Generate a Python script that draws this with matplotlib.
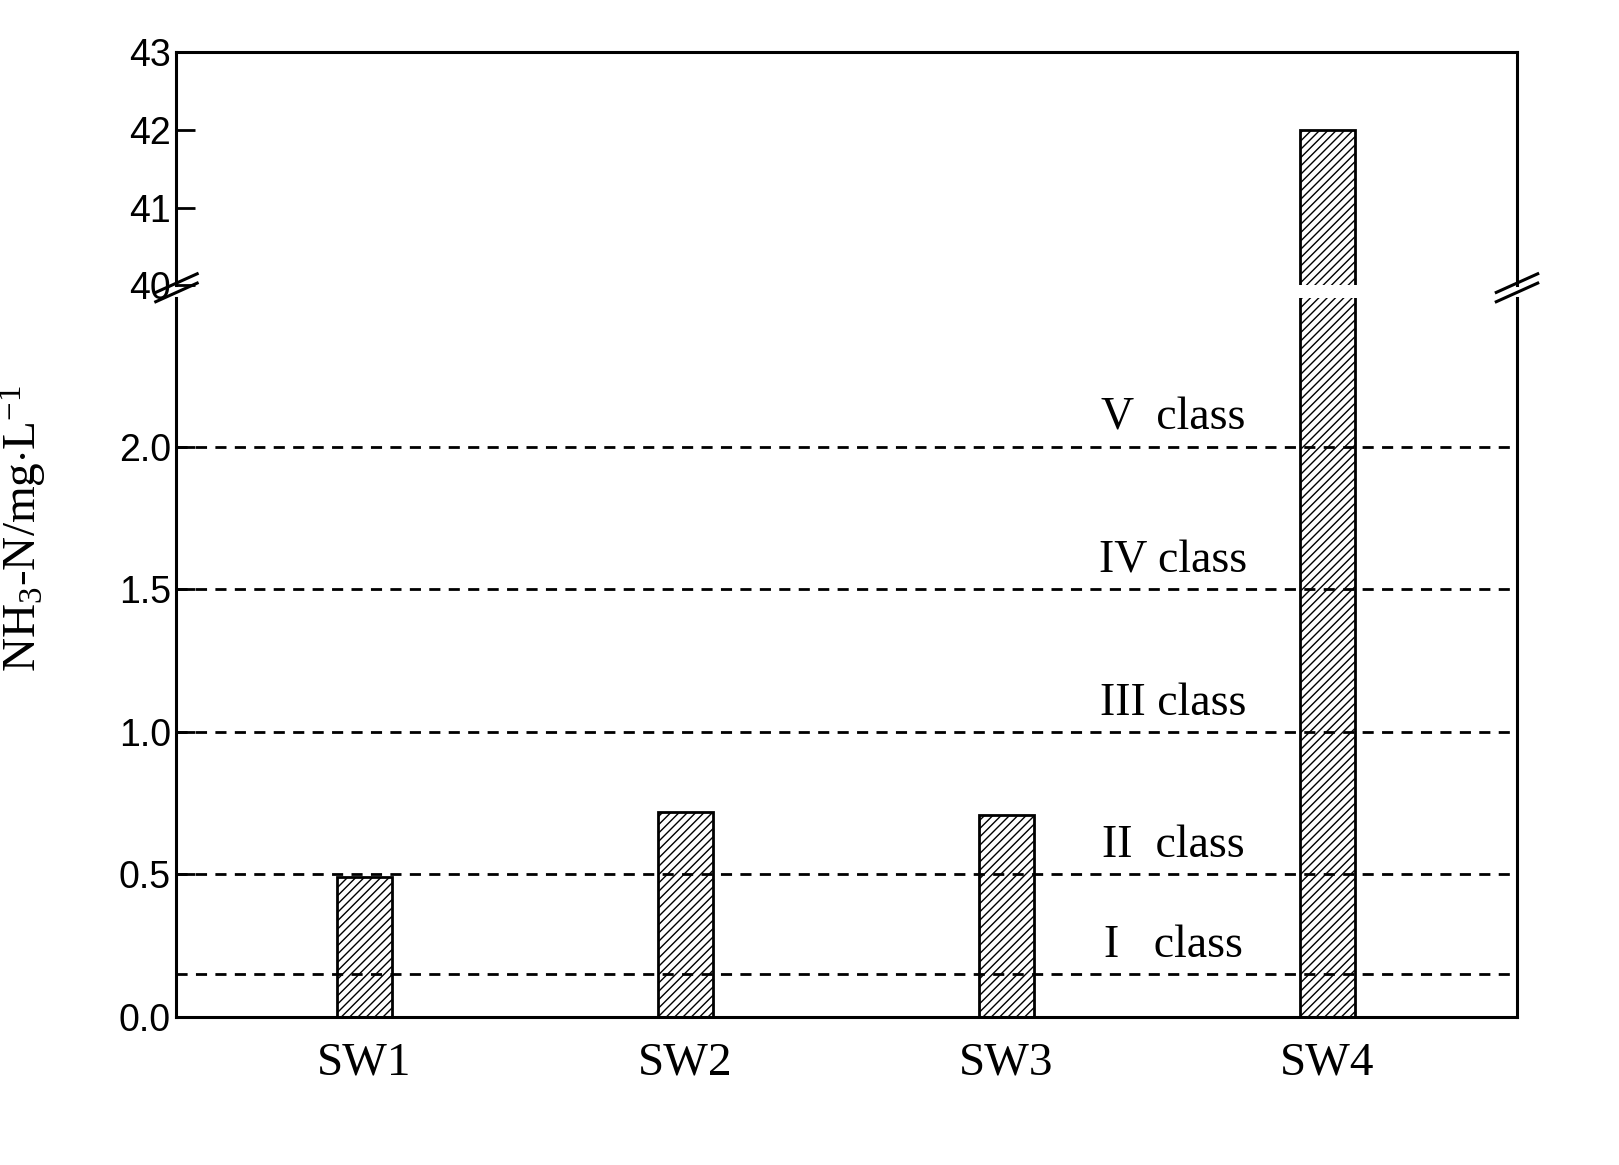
import matplotlib
matplotlib.use("Agg")
import matplotlib.pyplot as plt

plt.rcParams["mathtext.fontset"] = "custom"
plt.rcParams["mathtext.rm"] = "Liberation Serif"
plt.rcParams["mathtext.it"] = "Liberation Serif:italic"

sites = ["SW1", "SW2", "SW3", "SW4"]
values = [0.49, 0.72, 0.71, 42.0]
class_levels = [0.15, 0.5, 1.0, 1.5, 2.0]
class_names = ["I   class", "II  class", "III class", "IV class", "V  class"]

fig = plt.figure(figsize=(16.19, 11.65), dpi=100)
axl = fig.add_axes([0.109, 0.127, 0.828, 0.617])
axu = fig.add_axes([0.109, 0.755, 0.828, 0.200])
x = list(range(len(sites)))
for ax in (axl, axu):
    ax.bar(x, values, width=0.17, color="white", edgecolor="black", hatch="////", linewidth=2)
    ax.set_xlim(-0.586, 3.59)
    for s in ax.spines.values():
        s.set_linewidth(2.2)
    ax.tick_params(axis="y", direction="in", length=14, width=2, pad=4)
axl.set_ylim(0, 2.52)
axl.set_yticks([0, 0.5, 1.0, 1.5, 2.0])
axl.set_yticklabels(["0.0", "0.5", "1.0", "1.5", "2.0"], family="Liberation Sans", fontsize=27)
axu.set_ylim(40, 43)
axu.set_yticks([40, 41, 42, 43])
axu.set_yticklabels(["40", "41", "42", "43"], family="Liberation Sans", fontsize=27)
axl.spines["top"].set_visible(False)
axu.spines["bottom"].set_visible(False)
axu.set_xticks([])
axl.set_xticks(x)
axl.set_xticklabels(sites, family="Liberation Serif", fontsize=34)
axl.tick_params(axis="x", length=0, pad=18)

for lvl, nm in zip(class_levels, class_names):
    axl.axhline(lvl, color="black", linestyle=(0, (4, 3)), linewidth=2, zorder=3)
    axl.text(2.52, lvl + 0.025, nm, ha="center", va="bottom", family="Liberation Serif", fontsize=33)

axl.set_ylabel("NH$_3$-N/mg$\\cdot$L$^{-1}$", family="Liberation Serif", fontsize=34)
axl.yaxis.set_label_coords(-0.095, 0.68)

# break marks
d = 0.008
for xx in (0, 1):
    for yy in (0.749, 0.757):
        fig.lines.append(plt.Line2D([0.109 + xx*0.828 - d*1.6, 0.109 + xx*0.828 + d*1.6],
                                    [yy - d, yy + d], color="black", lw=2.2,
                                    transform=fig.transFigure))
fig.savefig("out.png", dpi=100)
